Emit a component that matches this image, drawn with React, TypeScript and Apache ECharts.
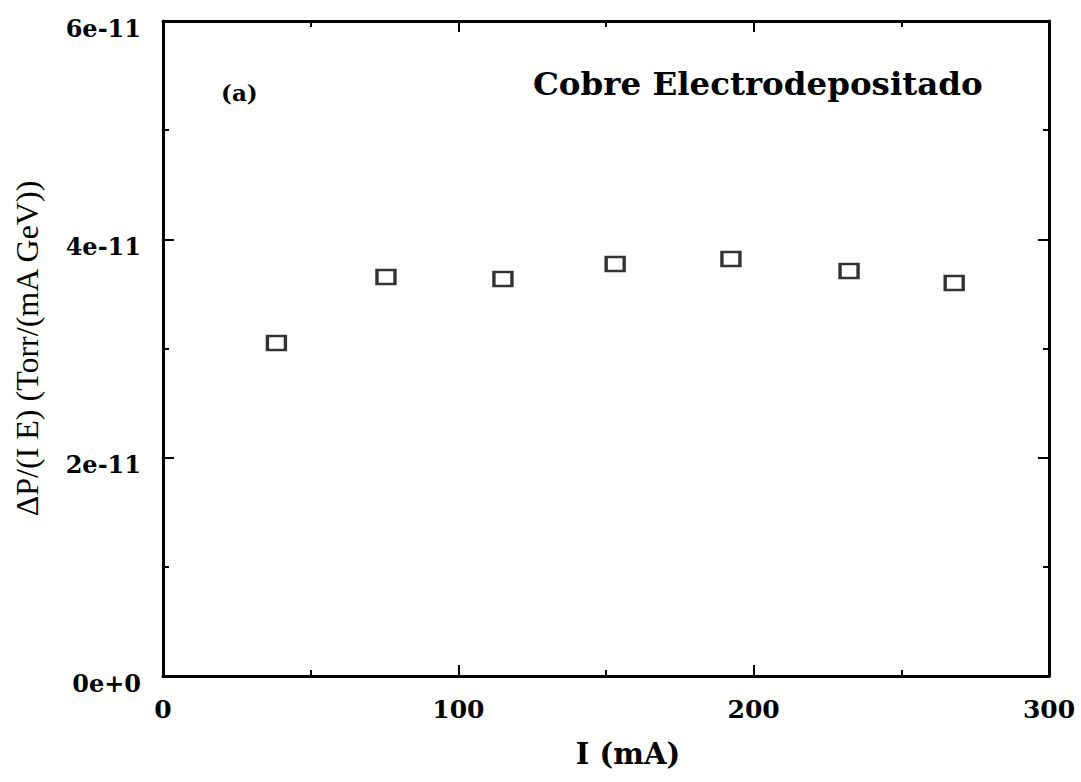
import React, { useEffect, useRef } from "react";
import * as echarts from "echarts";

const currents = [38.4, 75.5, 115.1, 153.1, 192.3, 232.3, 267.9];
const pressureRatio = [3.05e-11, 3.655e-11, 3.637e-11, 3.774e-11, 3.82e-11, 3.71e-11, 3.6e-11];
const xTicks = [0, 100, 200, 300];
const yTickLabels: Record<string, string> = { "0": "0e+0", "2": "2e-11", "4": "4e-11", "6": "6e-11" };
const titleText = "Cobre Electrodepositado";
const panelLabel = "(a)";
const xName = "I (mA)";
const yName = "ΔP/(I E) (Torr/(mA GeV))";

const FONT = "'DejaVu Serif', 'Liberation Serif', serif";
const NAME_FONT = "'Liberation Serif', 'DejaVu Serif', serif";

export default function App() {
  const ref = useRef<HTMLDivElement>(null);
  useEffect(() => {
    if (!ref.current) return;
    const chart = echarts.init(ref.current, null, { renderer: "svg" });
    const data = currents.map((x, i) => [x, pressureRatio[i]]);
    const axisLine = { show: true, onZero: false, lineStyle: { color: "#000", width: 3 } };
    const tick = { show: true, inside: true, length: 11, lineStyle: { color: "#000", width: 2 } };
    const minor = { show: true, splitNumber: 2, length: 6, lineStyle: { color: "#000", width: 2 } };
    const yFmt = (v: number) => yTickLabels[String(Math.round(v * 1e11))] ?? "";
    chart.setOption({
      animation: false,
      backgroundColor: "#fff",
      grid: { left: 163, right: 32, top: 21, bottom: 106, containLabel: false },
      xAxis: [
        {
          type: "value",
          min: xTicks[0],
          max: xTicks[xTicks.length - 1],
          interval: 100,
          position: "bottom",
          name: xName,
          nameLocation: "middle",
          nameGap: 63,
          nameTextStyle: {
            fontFamily: FONT,
            fontWeight: "bold",
            fontSize: 29,
            color: "#000",
            padding: [0, 0, 0, 44],
          },
          axisLine,
          axisTick: tick,
          minorTick: minor,
          splitLine: { show: false },
          axisLabel: {
            fontFamily: FONT,
            fontWeight: "bold",
            fontSize: 25,
            color: "#000",
            margin: 21,
          },
        },
        {
          type: "value",
          min: 0,
          max: 300,
          interval: 100,
          position: "top",
          axisLine,
          axisTick: tick,
          minorTick: minor,
          splitLine: { show: false },
          axisLabel: { show: false },
        },
      ],
      yAxis: [
        {
          type: "value",
          min: 0,
          max: 6e-11,
          interval: 2e-11,
          position: "left",
          name: yName,
          nameLocation: "middle",
          nameGap: 120,
          nameRotate: 90,
          nameTextStyle: {
            fontFamily: NAME_FONT,
            fontSize: 32,
            color: "#000",
          },
          axisLine,
          axisTick: tick,
          minorTick: minor,
          splitLine: { show: false },
          axisLabel: {
            fontFamily: FONT,
            fontWeight: "bold",
            fontSize: 24,
            color: "#000",
            margin: 22,
            verticalAlign: "top",
            lineHeight: 14,
            formatter: yFmt,
          },
        },
        {
          type: "value",
          min: 0,
          max: 6e-11,
          interval: 2e-11,
          position: "right",
          axisLine,
          axisTick: tick,
          minorTick: minor,
          splitLine: { show: false },
          axisLabel: { show: false },
        },
      ],
      graphic: [
        {
          type: "text",
          left: 533,
          top: 67,
          style: {
            text: titleText,
            fontFamily: FONT,
            fontWeight: "bold",
            fontSize: 32.5,
            fill: "#000",
          },
        },
        {
          type: "text",
          left: 221,
          top: 81,
          style: {
            text: panelLabel,
            fontFamily: FONT,
            fontWeight: "bold",
            fontSize: 23,
            fill: "#000",
          },
        },
      ],
      series: [
        {
          type: "scatter",
          xAxisIndex: 0,
          yAxisIndex: 0,
          data,
          symbol: "rect",
          symbolSize: [18, 14],
          itemStyle: { color: "#fff", borderColor: "#000", borderWidth: 3 },
        },
      ],
    });
    return () => chart.dispose();
  }, []);
  return (
    <div
      ref={ref}
      style={{ position: "absolute", left: 0, top: 0, width: 1081, height: 782 }}
    />
  );
}
